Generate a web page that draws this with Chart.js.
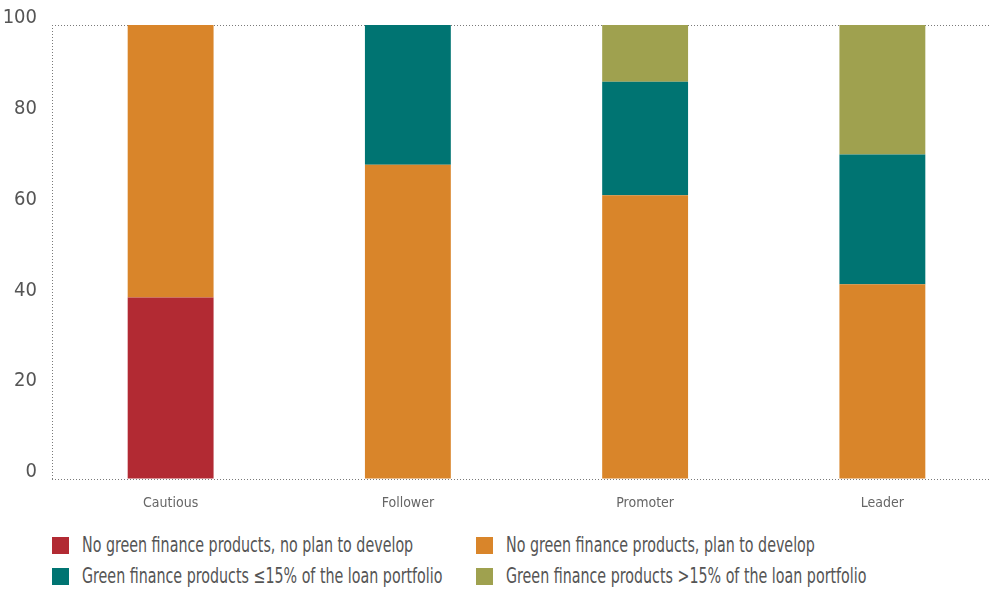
<!DOCTYPE html>
<html>
<head>
<meta charset="utf-8">
<script src="https://cdn.jsdelivr.net/npm/chart.js@4"></script>
<style>
  html, body { margin: 0; padding: 0; background: #fff; overflow: hidden; }
  .wrap { position: relative; width: 991px; height: 590px; overflow: hidden; }
  .chart { position: absolute; left: 0; top: -2px; width: 1005px; height: 524px; }
  .legend { position: absolute; left: 52px; top: 534px; width: 900px;
    font-family: "DejaVu Sans Condensed", "Liberation Sans Narrow", sans-serif;
    font-size: 21px; color: #555; }
  .legend .item { position: absolute; white-space: nowrap; line-height: 22px; }
  .legend .box { display: inline-block; width: 17px; height: 17px; vertical-align: -2px; margin-right: 13px; }
  .legend .txt { display: inline-block; transform: scaleX(0.755); transform-origin: 0 50%; }
</style>
</head>
<body>
<div class="wrap">
  <div class="chart"><canvas id="myChart"></canvas></div>
  <div class="legend" id="legend"></div>
</div>
<script>
// survey shares (%) by bank type
const categories = ['Cautious', 'Follower', 'Promoter', 'Leader'];
const noProductsNoPlan = [40, 0, 0, 0];
const noProductsPlan = [60, 69.2, 62.5, 42.9];
const productsUpTo15 = [0, 30.8, 25, 28.6];
const productsOver15 = [0, 0, 12.5, 28.5];
const yTicks = [0, 20, 40, 60, 80, 100];

const dotted = '#7a7a7a';
const font = '"DejaVu Sans Condensed", "Liberation Sans Narrow", sans-serif';

const ctx = document.getElementById('myChart').getContext('2d');
const myChart = new Chart(ctx, {
  type: 'bar',
  data: {
    labels: categories,
    datasets: [
      { label: 'No green finance products, no plan to develop', data: noProductsNoPlan, backgroundColor: '#b22a33' },
      { label: 'No green finance products, plan to develop', data: noProductsPlan, backgroundColor: '#d9852a' },
      { label: 'Green finance products \u226415% of the loan portfolio', data: productsUpTo15, backgroundColor: '#007472' },
      { label: 'Green finance products >15% of the loan portfolio', data: productsOver15, backgroundColor: '#9fa14f' },
    ],
  },
  options: {
    responsive: true,
    maintainAspectRatio: false,
    animation: false,
    layout: { padding: { top: 20, right: 4, left: 0, bottom: 0 } },
    plugins: { legend: { display: false }, tooltip: { enabled: false } },
    datasets: { bar: { categoryPercentage: 1, barPercentage: 0.362, borderWidth: 0 } },
    scales: {
      x: {
        stacked: true,
        afterFit: (scale) => { scale.height = 43; },
        grid: {
          drawTicks: false,
          color: (c) => (c.index === 0 ? dotted : 'rgba(0,0,0,0)'),
          lineWidth: 1,
        },
        border: { display: false, dash: [1, 2] },
        ticks: { color: '#666', font: { family: font, size: 14 }, padding: 16 },
      },
      y: {
        stacked: true,
        min: 0,
        max: 100,
        afterFit: (scale) => { scale.width = 52; },
        afterBuildTicks: (scale) => { scale.ticks = yTicks.map((v) => ({ value: v })); },
        grid: {
          drawTicks: false,
          color: (c) => (c.tick && (c.tick.value === 0 || c.tick.value === 100) ? dotted : 'rgba(0,0,0,0)'),
          lineWidth: 1,
        },
        border: { display: false, dash: [1, 2] },
        ticks: { color: '#555', font: { family: font, size: 20 }, padding: 15, labelOffset: -7 },
      },
    },
  },
});

// two-column legend under the chart
const legendEl = document.getElementById('legend');
const spots = [[0, 0], [424, 0], [0, 31], [424, 31]];
myChart.data.datasets.forEach((ds, i) => {
  const item = document.createElement('div');
  item.className = 'item';
  item.style.left = spots[i][0] + 'px';
  item.style.top = spots[i][1] + 'px';
  const box = document.createElement('span');
  box.className = 'box';
  box.style.background = ds.backgroundColor;
  const txt = document.createElement('span');
  txt.className = 'txt';
  txt.textContent = ds.label;
  item.appendChild(box);
  item.appendChild(txt);
  legendEl.appendChild(item);
});
</script>
</body>
</html>
